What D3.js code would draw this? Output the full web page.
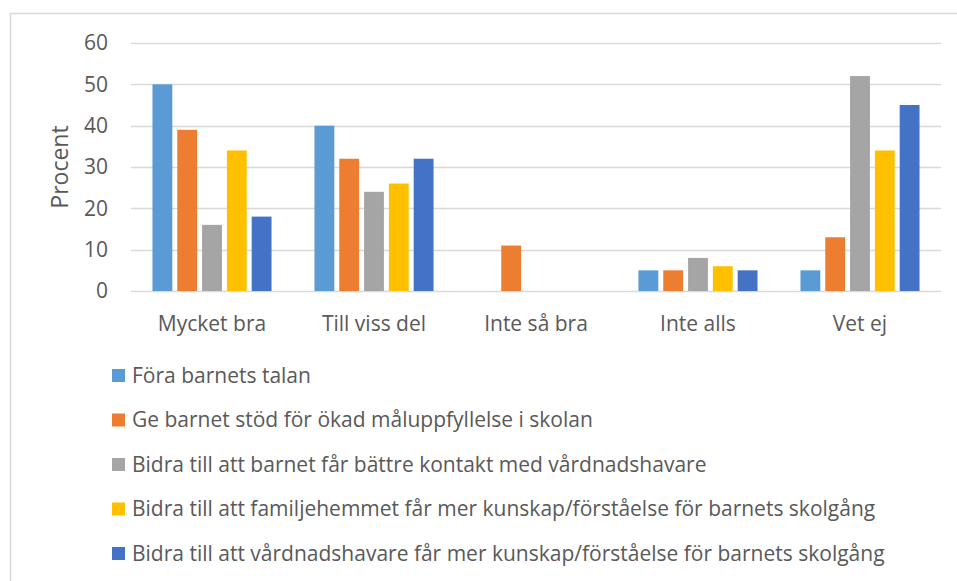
<!DOCTYPE html>
<html>
<head>
<meta charset="utf-8">
<script src="https://cdn.jsdelivr.net/npm/d3@7"></script>
<style>
  body { margin: 0; background: #fff; }
  svg text { font-family: "Open Sans", "Lato", sans-serif; fill: #595959; }
</style>
</head>
<body>
<svg id="chart"></svg>
<script>
const width = 957;
const height = 581;

const categories = ["Mycket bra", "Till viss del", "Inte så bra", "Inte alls", "Vet ej"];
const seriesNames = [
  "Föra barnets talan",
  "Ge barnet stöd för ökad måluppfyllelse i skolan",
  "Bidra till att barnet får bättre kontakt med vårdnadshavare",
  "Bidra till att familjehemmet får mer kunskap/förståelse för barnets skolgång",
  "Bidra till att vårdnadshavare får mer kunskap/förståelse för barnets skolgång"
];
const colors = ["#5b9bd5", "#ed7d31", "#a5a5a5", "#ffc000", "#4472c4"];

// one array per series, in category order
const foraTalan   = [50, 40, 0, 5, 5];
const geStod      = [39, 32, 11, 5, 13];
const kontakt     = [16, 24, 0, 8, 52];
const familjehem  = [34, 26, 0, 6, 34];
const vardnad     = [18, 32, 0, 5, 45];
const seriesValues = [foraTalan, geStod, kontakt, familjehem, vardnad];

const yTicks = [0, 10, 20, 30, 40, 50, 60];

const svg = d3.select("#chart")
  .attr("width", width)
  .attr("height", height);

// outer chart frame
svg.append("rect")
  .attr("x", 10.5)
  .attr("y", 13.5)
  .attr("width", 1000)
  .attr("height", 700)
  .attr("fill", "none")
  .attr("stroke", "#d9d9d9")
  .attr("stroke-width", 1.5);

const plot = { left: 131, right: 941, top: 43, bottom: 291 };

const x0 = d3.scaleBand()
  .domain(categories)
  .range([plot.left, plot.right])
  .paddingInner(0.265)
  .paddingOuter(0.1325);

const x1 = d3.scaleBand()
  .domain(d3.range(seriesNames.length))
  .range([0, x0.bandwidth()])
  .paddingInner(0.2);

const y = d3.scaleLinear()
  .domain([0, 60])
  .range([plot.bottom, plot.top]);

// gridlines
svg.append("g")
  .selectAll("line")
  .data(yTicks)
  .join("line")
  .attr("x1", plot.left)
  .attr("x2", plot.right)
  .attr("y1", d => Math.round(y(d)) + 0.5)
  .attr("y2", d => Math.round(y(d)) + 0.5)
  .attr("stroke", "#d9d9d9")
  .attr("stroke-width", 1.5);

// y tick labels
svg.append("g")
  .selectAll("text")
  .data(yTicks)
  .join("text")
  .attr("x", 108)
  .attr("y", d => y(d))
  .attr("dy", "0.35em")
  .attr("text-anchor", "end")
  .attr("font-size", 21)
  .text(d => d);

// axis title
svg.append("text")
  .attr("transform", `translate(68,${(plot.top + plot.bottom) / 2}) rotate(-90)`)
  .attr("text-anchor", "middle")
  .attr("font-size", 23)
  .text("Procent");

// bars
const groups = svg.append("g")
  .selectAll("g")
  .data(categories)
  .join("g")
  .attr("transform", d => `translate(${x0(d)},0)`);

groups.selectAll("rect")
  .data((c, ci) => seriesValues.map((vals, si) => ({ si, v: vals[ci] })))
  .join("rect")
  .filter(d => d.v > 0)
  .attr("x", d => x1(d.si))
  .attr("width", x1.bandwidth())
  .attr("y", d => y(d.v))
  .attr("height", d => y(0) - y(d.v))
  .attr("fill", d => colors[d.si]);

// category labels
svg.append("g")
  .selectAll("text")
  .data(categories)
  .join("text")
  .attr("x", d => x0(d) + x0.bandwidth() / 2)
  .attr("y", 331)
  .attr("text-anchor", "middle")
  .attr("font-size", 21)
  .text(d => d);

// legend
const legend = svg.append("g")
  .selectAll("g")
  .data(seriesNames)
  .join("g")
  .attr("transform", (d, i) => `translate(112,${375.5 + i * 44.5})`);

legend.append("rect")
  .attr("x", 0)
  .attr("y", -6.5)
  .attr("width", 13)
  .attr("height", 13)
  .attr("fill", (d, i) => colors[i]);

legend.append("text")
  .attr("x", 20)
  .attr("dy", "0.35em")
  .attr("font-size", 21)
  .text(d => d);
</script>
</body>
</html>
